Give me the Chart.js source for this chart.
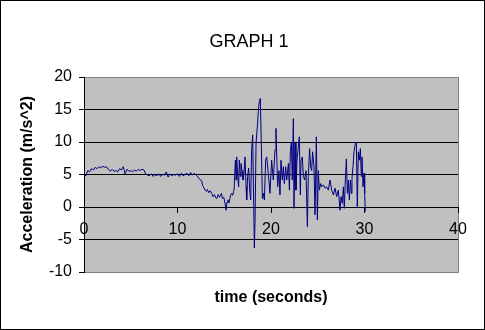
<!DOCTYPE html>
<html>
<head>
<meta charset="utf-8">
<script src="https://cdn.jsdelivr.net/npm/chart.js@4.4.0/dist/chart.umd.min.js"></script>
<style>
html,body{margin:0;padding:0;background:#fff;}
canvas{display:block;}
</style>
</head>
<body>
<canvas id="graph" width="485" height="330"></canvas>
<script>
// time (s) and acceleration (m/s^2)
const timeSec = [
  0.0,0.2,0.4,0.6,0.8,1.0,1.2,1.4,1.6,1.8,2.0,2.2,2.4,2.6,2.8,3.0,3.2,3.4,3.6,3.8,
  4.0,4.2,4.4,4.6,4.8,5.0,5.2,5.4,5.6,5.8,6.0,6.2,6.4,6.6,6.8,
  7.0,7.2,7.4,7.6,7.8,8.0,8.2,8.4,8.6,8.8,9.0,9.2,9.4,9.6,9.8,
  10.0,10.2,10.4,10.6,10.8,11.0,11.2,11.4,11.6,11.8,12.0,12.2,12.4,12.6,12.7,12.8,12.95,
  13.1,13.2,13.35,13.5,13.65,13.8,13.95,14.1,14.2,14.35,14.5,14.6,14.7,14.8,14.95,
  15.08,15.2,15.3,15.4,15.5,15.6,15.7,15.8,15.9,16.0,
  16.05,16.19,16.26,16.33,16.44,16.54,16.61,16.72,16.79,16.9,17.0,17.11,17.22,17.33,17.4,17.5,
  17.61,17.72,17.83,17.93,18.04,18.11,18.22,18.29,18.4,18.54,18.65,18.75,18.86,18.97,
  19.08,19.18,19.29,19.43,19.54,19.71,19.89,20.07,20.25,20.43,20.53,20.71,20.85,20.96,
  21.07,21.21,21.32,21.43,21.57,21.68,21.86,21.97,22.07,22.18,22.28,22.39,22.46,22.57,22.67,22.78,22.92,
  23.03,23.14,23.21,23.35,23.46,23.6,23.74,23.89,23.99,24.13,24.24,24.35,24.45,24.6,24.71,24.85,24.96,
  25.06,25.17,25.31,25.42,25.6,25.78,25.95,26.13,26.31,26.49,26.67,26.85,
  27.02,27.2,27.38,27.49,27.63,27.74,27.84,27.95,28.06,28.17,28.27,28.38,28.49,28.59,28.66,28.77,28.88,
  29.02,29.13,29.23,29.34,29.45,29.56,29.66,29.73,29.84,29.95,30.02,30.09
];
const accel = [
  5.0,4.8,5.6,5.4,5.9,5.7,6.1,5.9,6.2,6.0,6.3,6.1,6.2,5.8,5.5,5.8,5.5,5.6,5.4,5.9,
  5.7,6.2,5.1,5.8,5.5,5.6,5.4,5.7,5.5,5.8,5.6,5.8,5.7,5.1,4.9,
  4.8,5.1,4.7,5.0,4.8,5.1,4.7,5.0,4.9,5.4,4.6,5.1,4.8,5.0,4.9,
  5.1,4.7,5.2,4.8,5.0,5.2,4.8,5.3,4.9,5.2,4.9,4.6,4.2,4.0,3.3,3.0,2.6,
  2.4,2.7,2.2,2.5,2.1,1.6,1.9,1.4,1.3,1.9,1.5,1.9,2.1,1.3,1.5,
  0.6,-0.5,0.8,1.1,0.6,1.3,1.9,2.1,1.8,2.4,
  2.6,7.2,4.15,7.7,4.7,3.1,7.2,4.7,6.7,5.6,4.15,5.2,7.7,3.1,1.1,4.7,
  6.0,2.6,1.1,8.8,11.1,4.15,-6.3,-2.5,9.8,12.4,14.9,16.2,16.7,9.3,
  1.3,2.1,1.1,7.2,7.7,5.2,2.1,7.2,4.15,8.8,12.1,3.1,5.6,1.85,
  7.2,4.15,6.2,3.6,6.2,4.15,6.7,2.6,8.5,10.0,4.15,13.6,-0.2,10.0,2.6,7.2,9.3,
  10.8,1.85,7.2,7.7,4.7,4.15,5.6,-3.0,4.7,9.0,6.2,5.6,8.5,6.2,-1.2,10.8,-2.0,
  5.6,2.6,3.6,3.1,3.4,2.9,3.1,2.6,4.15,2.6,1.85,2.9,
  1.6,2.6,-0.5,1.6,0.56,3.1,-0.2,4.15,7.4,2.1,4.15,1.1,4.15,2.1,4.4,6.2,8.5,
  9.8,10.0,0.05,8.5,7.2,9.0,4.7,7.7,3.1,5.2,2.1,-0.7
];

const FONT = "'Liberation Sans', Arial, sans-serif";

const frame = {
  id: 'frame',
  beforeDraw(chart){
    const {ctx, chartArea:a} = chart;
    ctx.save();
    ctx.fillStyle = '#fff';
    ctx.fillRect(0, 0, chart.width, chart.height);
    ctx.fillStyle = '#c0c0c0';
    ctx.fillRect(a.left, a.top, a.right - a.left, a.bottom - a.top);
    ctx.lineWidth = 1;
    ctx.strokeStyle = '#808080';
    ctx.strokeRect(Math.round(a.left) + 0.5, Math.round(a.top) + 0.5,
      Math.round(a.right - a.left), Math.round(a.bottom - a.top));
    ctx.strokeStyle = '#000';
    ctx.strokeRect(0.5, 0.5, chart.width - 1, chart.height - 1);
    ctx.restore();
  }
};

new Chart(document.getElementById('graph').getContext('2d'), {
  type: 'line',
  data: { datasets: [{
    data: timeSec.map((t, i) => ({ x: t, y: accel[i] })),
    borderColor: '#000080', borderWidth: 1, pointRadius: 0, tension: 0, fill: false
  }] },
  options: {
    responsive: false, animation: false,
    // left pad shifts the title's centre to where the original has it
    layout: { padding: { left: 40, right: 27, top: 0, bottom: 0 } },
    plugins: {
      legend: { display: false }, tooltip: { enabled: false },
      title: { display: true, text: 'GRAPH 1', color: '#000',
        font: { family: FONT, size: 18, weight: 'normal' }, padding: { top: 31, bottom: 24.4 } },
      subtitle: { display: true, position: 'bottom', fullSize: false, text: 'time (seconds)', color: '#000',
        font: { family: FONT, size: 16, weight: 'bold' }, padding: { top: 16.4, bottom: 22.4 } }
    },
    scales: {
      x: { type: 'linear', position: { y: 0 }, min: 0, max: 40,
        ticks: { stepSize: 10, color: '#000', font: { family: FONT, size: 16 }, padding: 8, maxRotation: 0 },
        grid: { drawOnChartArea: false, color: '#000', tickLength: 5 },
        border: { color: '#000' } },
      y: { min: -10, max: 20,
        ticks: { stepSize: 5, color: '#000', font: { family: FONT, size: 16 }, padding: 7 },
        grid: { color: c => (c.tick && (c.tick.value === 20 || c.tick.value === -10)) ? '#808080' : '#000',
          tickColor: '#000', tickLength: 5 },
        border: { color: '#000' },
        title: { display: true, text: 'Acceleration (m/s^2)', color: '#000',
          font: { family: FONT, size: 16, weight: 'bold' }, padding: { top: -21.6, bottom: 0 } },
        afterFit(s){ s.width = 44; } }
    }
  },
  plugins: [frame]
});
</script>
</body>
</html>
